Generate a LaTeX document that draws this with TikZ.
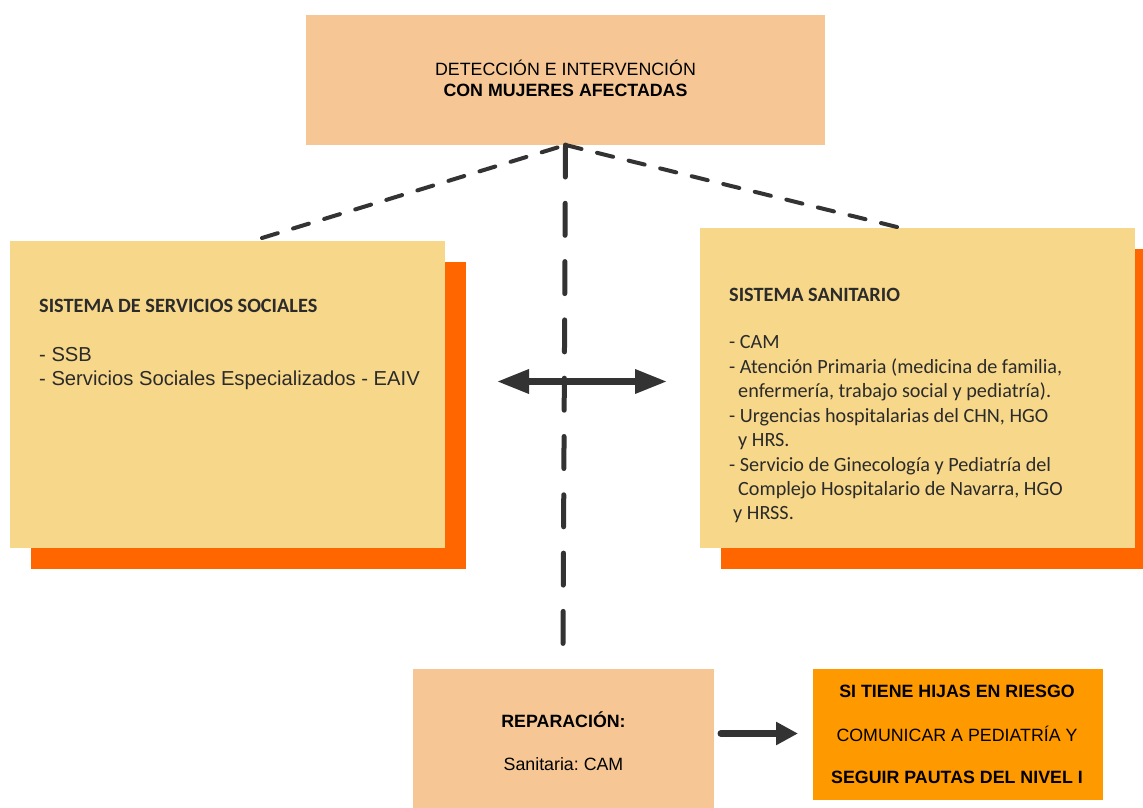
\documentclass[tikz,border=0pt]{standalone}
\usepackage{fontspec}
\setmainfont{Liberation Sans}
\newfontfamily\cali{Carlito}
\usetikzlibrary{arrows.meta}
\definecolor{peach}{HTML}{F6C795}
\definecolor{ylw}{HTML}{F7D789}
\definecolor{shad}{HTML}{FF6600}
\definecolor{orng}{HTML}{FF9900}
\definecolor{ink}{HTML}{333333}
\definecolor{txt}{HTML}{2B2B2B}
\frenchspacing
\begin{document}
\begin{tikzpicture}[x=1pt,y=-1pt,
  panel/.style={draw=none,inner sep=0pt,outer sep=0pt,anchor=north west},
  arialtxt/.style={inner sep=0pt,anchor=base,text=black,font=\fontsize{17.8}{21}\selectfont},
  arialbold/.style={arialtxt,font=\fontsize{17.8}{21}\selectfont\bfseries},
  calitxt/.style={inner sep=0pt,anchor=base west,text=txt,font=\cali\fontsize{20.2}{24}\selectfont},
  calibold/.style={calitxt,font=\cali\fontsize{20.3}{24}\selectfont\bfseries},
  listtxt/.style={inner sep=0pt,anchor=base west,text=txt,font=\fontsize{20.2}{24}\selectfont},
  slantdash/.style={draw=ink,line width=4pt,line cap=round,dash pattern=on 16.5pt off 16pt},
  vertdash/.style={draw=ink,line width=5pt,line cap=round,dash pattern=on 32pt off 26.3pt},
  fatarrowboth/.style={draw=ink,line width=6.5pt,{Triangle[length=32pt,width=23pt]}-{Triangle[length=32pt,width=23pt]}},
  smallarrow/.style={draw=ink,line width=7pt,line cap=round,-{Triangle[length=22pt,width=22pt]}}
]
\useasboundingbox (0,0) rectangle (1143,808);
\fill[white] (0,0) rectangle (1143,808);

% top box
\node[panel,fill=peach,minimum width=519pt,minimum height=130pt] (top) at (306,15) {};
\node[arialtxt] (top1) at (565.5,76) {DETECCIÓN E INTERVENCIÓN};
\node[arialbold] (top2) at (565.5,96) {CON MUJERES AFECTADAS};

% left panel
\fill[shad] (31,262) rectangle (466,569);
\node[panel,fill=ylw,minimum width=435pt,minimum height=307pt] (ssoc) at (10,241) {};
\node[calibold] (ssoct) at (39,312) {SISTEMA DE SERVICIOS SOCIALES};
\node[listtxt] (ssoc1) at (39,361) {- SSB};
\node[listtxt] (ssoc2) at (39,385) {- Servicios Sociales Especializados - EAIV};

% right panel
\fill[shad] (721,249) rectangle (1160,569);
\node[panel,fill=ylw,minimum width=435pt,minimum height=320pt] (ssan) at (700,228) {};
\node[calibold] (ssant) at (729,301) {SISTEMA SANITARIO};
\foreach \xx/\yy/\tt [count=\i] in {
  729/348/{- CAM},
  729/373/{- Atención Primaria (medicina de familia,},
  738/397/{enfermería, trabajo social y pediatría).},
  729/422/{- Urgencias hospitalarias del CHN, HGO},
  738/446/{y HRS.},
  729/471/{- Servicio de Ginecología y Pediatría del},
  738/495/{Complejo Hospitalario de Navarra, HGO},
  733/519/{y HRSS.}}
  \node[calitxt] (ssan\i) at (\xx,\yy) {\tt};

% bottom boxes
\node[panel,fill=peach,minimum width=301pt,minimum height=150pt] (rep) at (413,669) {};
\node[arialbold] (rep1) at (563.5,727) {REPARACIÓN:};
\node[arialtxt] (rep2) at (563.5,770) {Sanitaria: CAM};

\node[panel,fill=orng,minimum width=290pt,minimum height=131pt] (hijas) at (813,669) {};
\node[arialbold] (hijas1) at (957,697) {SI TIENE HIJAS EN RIESGO};
\node[arialtxt] (hijas2) at (957,741) {COMUNICAR A PEDIATRÍA Y};
\node[arialbold] (hijas3) at (957,783) {SEGUIR PAUTAS DEL NIVEL I};

% connectors
\coordinate (lend) at (262,238);
\coordinate (rend) at (901,228);
\coordinate (vend) at (563,648);
\draw[slantdash] (lend) -- (top.south);
\draw[slantdash] (top.south) -- (rend);
\draw[vertdash] (top.south) -- (vend);

\coordinate (al) at (497,381.5);
\coordinate (ar) at (667,381.5);
\draw[fatarrowboth] (al) -- (ar);

\coordinate (bstart) at (721,733.5);
\coordinate (bend) at (798,733.5);
\draw[smallarrow] (bstart) -- (bend);
\end{tikzpicture}
\end{document}
